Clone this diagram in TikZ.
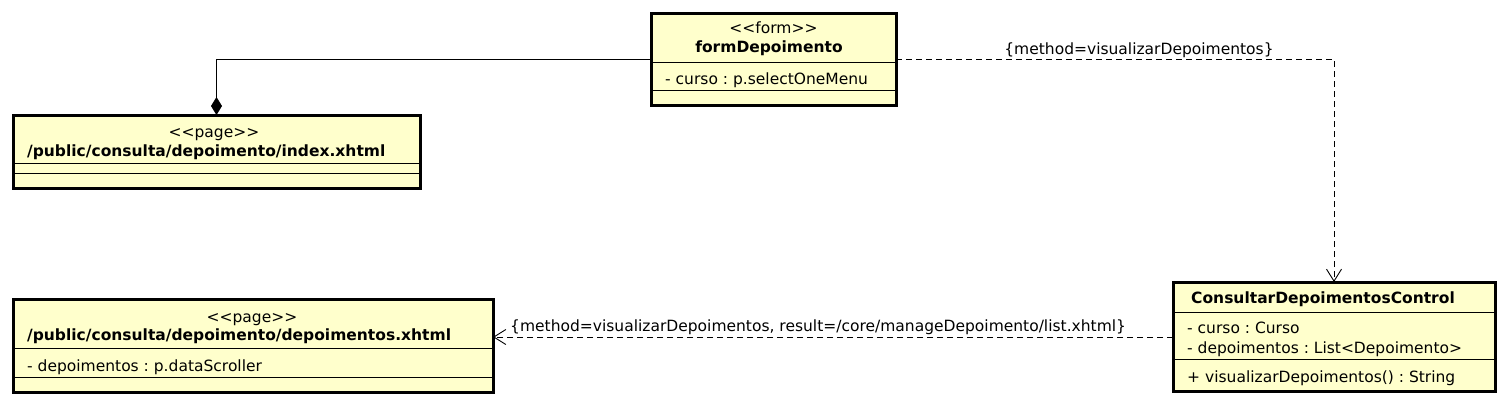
\documentclass[tikz,border=0pt]{standalone}
\usepackage{fontspec}
\setmainfont{DejaVu Sans}
\usetikzlibrary{arrows.meta}
\definecolor{umlfill}{RGB}{255,255,204}
\newcommand{\lt}{\mbox{<}}
\newcommand{\gt}{\mbox{>}}
\frenchspacing
\begin{document}
\begin{tikzpicture}[x=1pt,y=-1pt,
  umlbox/.style={draw=black, line width=3pt, fill=umlfill, inner sep=0pt, outer sep=0pt, anchor=north west},
  sepline/.style={line width=0.9pt},
  txt/.style={font=\fontsize{15.5}{18}\selectfont, inner sep=0pt, anchor=base},
  txtl/.style={txt, anchor=base west},
  nm/.style={txt, font=\fontsize{15.5}{18}\selectfont\bfseries},
  nml/.style={nm, anchor=base west},
  conn/.style={line width=0.9pt},
  dep/.style={conn, dash pattern=on 6pt off 4pt, -{Straight Barb[length=12pt,width=15pt,line width=0.9pt]}},
  comp/.style={conn, {Diamond[length=18pt,width=11pt]}-}
]
\useasboundingbox (0,0) rectangle (1505,405);

% formDepoimento
\node[umlbox, minimum width=245pt, minimum height=92pt] (form) at (651,13) {};
\draw[sepline] (form.west |- 0,62) -- (form.east |- 0,62);
\draw[sepline] (form.west |- 0,90) -- (form.east |- 0,90);
\node[txt] (formst) at (773.5,33) {\lt\lt form\gt\gt};
\node[nm] (formnm) at (769,52) {formDepoimento};
\node[txtl] (format) at (665,84) {- curso : p.selectOneMenu};

% index.xhtml
\node[umlbox, minimum width=407pt, minimum height=73pt] (index) at (13,115) {};
\draw[sepline] (index.west |- 0,163) -- (index.east |- 0,163);
\draw[sepline] (index.west |- 0,173) -- (index.east |- 0,173);
\node[txt] (indexst) at (214,137) {\lt\lt page\gt\gt};
\node[nml] (indexnm) at (27,156) {/public/consulta/depoimento/index.xhtml};

% depoimentos.xhtml
\node[umlbox, minimum width=480pt, minimum height=93pt] (deps) at (13,299) {};
\draw[sepline] (deps.west |- 0,348) -- (deps.east |- 0,348);
\draw[sepline] (deps.west |- 0,377) -- (deps.east |- 0,377);
\node[txt] (depsst) at (252,322) {\lt\lt page\gt\gt};
\node[nml] (depsnm) at (27,340) {/public/consulta/depoimento/depoimentos.xhtml};
\node[txtl] (depsat) at (27,371) {- depoimentos : p.dataScroller};

% ConsultarDepoimentosControl
\node[umlbox, minimum width=322pt, minimum height=109pt] (ctrl) at (1173,282) {};
\draw[sepline] (ctrl.west |- 0,312) -- (ctrl.east |- 0,312);
\draw[sepline] (ctrl.west |- 0,359) -- (ctrl.east |- 0,359);
\node[nml] (ctrlnm) at (1191,303) {ConsultarDepoimentosControl};
\node[txtl] (ctrlat1) at (1187,333) {- curso : Curso};
\node[txtl] (ctrlat2) at (1187,353) {- depoimentos : List\lt Depoimento\gt};
\node[txtl] (ctrlop) at (1187,382) {+ visualizarDepoimentos() : String};

% connectors
\draw[comp] (index.north) |- (form.west);
\draw[dep] (form.east) -| (ctrl.north);
\coordinate (c2) at (ctrl.west |- 0,337);
\draw[dep] (c2) -- (c2 -| deps.east);
\node[txt] (lab1) at (1139,54) {\{method=visualizarDepoimentos\}};
\node[txtl] (lab2) at (510,331) {\{method=visualizarDepoimentos, result=/core/manageDepoimento/list.xhtml\}};
\end{tikzpicture}
\end{document}
